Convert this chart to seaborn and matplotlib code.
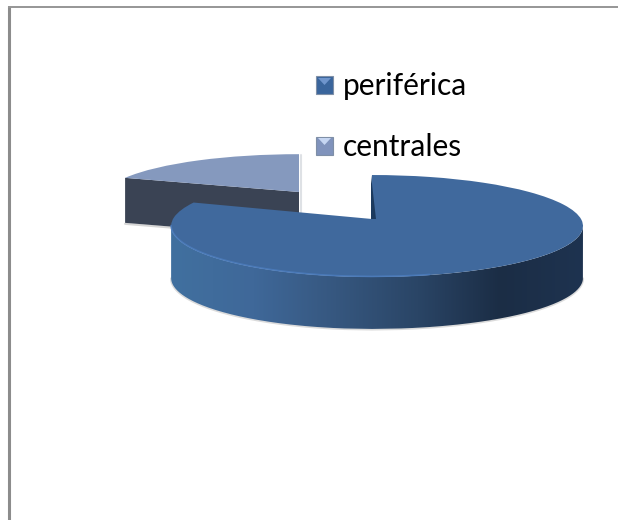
import numpy as np
import matplotlib
matplotlib.use("Agg")
import matplotlib.pyplot as plt
import seaborn as sns
from matplotlib.colors import LinearSegmentedColormap
from matplotlib.patches import Patch, PathPatch
from matplotlib.path import Path
from matplotlib.transforms import Transform

categories = ["periférica", "centrales"]
shares = [80.6, 19.4]
top_colors = ["#40699D", "#8599BE"]
side_stops = ["#41709F", "#3F6899", "#36577F", "#2A4566", "#1B2D45", "#1E3350"]

sns.set_theme(style="white")
plt.rcParams["font.family"] = ["Lato", "DejaVu Sans"]


class Tilt(Transform):
    """Perspective view of a unit-circle pie, output in pixel coordinates."""
    input_dims = output_dims = 2
    is_separable = False
    has_inverse = False

    def __init__(self, x0, y0, left, right, height, k=0.137):
        super().__init__()
        self.p = (x0, y0, left, right, height, k)

    def transform_non_affine(self, xy):
        x0, y0, left, right, height, k = self.p
        xy = np.asarray(xy, float)
        u, v = xy[:, 0], xy[:, 1]
        w = 1 + k * v
        b = np.where(u < 0, left, right)
        return np.column_stack([x0 + b * u / w, y0 - height * v / w])


fig = plt.figure(figsize=(6.18, 5.2), dpi=100)
ax = fig.add_axes([0, 0, 1, 1])
wedges, _ = ax.pie(shares, colors=top_colors, startangle=90, counterclock=False,
                   radius=1, center=(0, 0), wedgeprops=dict(linewidth=0))
big_view = Tilt(372, 219, 199, 209, 50)
small_view = Tilt(299, 192, 194, 194, 43)
wedges[0].set_transform(big_view + ax.transData)
wedges[1].set_transform(small_view + ax.transData)
wedges[0].set_zorder(6)
wedges[1].set_zorder(3)

DEPTH = 52
SMALL_DEPTH = 45

# side wall of the large slice, with a horizontal gradient
k = big_view.p[-1]
v = np.linspace(-k, -1, 120)
left_arc = np.column_stack([-np.sqrt(1 - v**2), v])
right_arc = left_arc[::-1] * [-1, 1]
unit_arc = np.vstack([left_arc, right_arc])
front = big_view.transform_non_affine(unit_arc)
wall = np.vstack([front, (front + [0, DEPTH])[::-1]])
cmap = LinearSegmentedColormap.from_list("wall", side_stops)
img = ax.imshow(np.linspace(0, 1, 256)[None, :], cmap=cmap, aspect="auto",
                extent=(front[:, 0].min(), front[:, 0].max(), 345, 215), zorder=5)
img.set_clip_path(PathPatch(Path(wall), transform=ax.transData))

# soft halo beneath the wall
ax.plot(front[:, 0], front[:, 1] + DEPTH + 0.5, color="#8A8A8A", lw=1.6, alpha=0.3,
        zorder=4, solid_capstyle="round")
# light rim on the front-left of the top face
ax.plot(front[:125, 0], front[:125, 1] - 0.5, color="#4C7DBE", lw=1.2, alpha=0.8, zorder=7)

# cut face of the small slice
th = np.deg2rad(wedges[1].theta2)
corner = small_view.transform_non_affine(np.array([[np.cos(th), np.sin(th)]]))[0]
apex = np.array([small_view.p[0], small_view.p[1]])
face = np.array([corner, apex, apex + [0, SMALL_DEPTH], corner + [0, SMALL_DEPTH]])
ax.fill(face[:, 0], face[:, 1], color="#3A4354", lw=0, zorder=2)
ax.plot([apex[0] + 1.5] * 2, [155, apex[1] + 24], color="#C9CDD4", lw=1.5, alpha=0.6, zorder=1)
ax.plot(face[2:, 0], face[2:, 1] + 1, color="#999999", lw=1.5, alpha=0.4, zorder=1)

# dark sliver on the inner cut of the large slice
ax.fill([371, 371, 375.5], [175, 219, 219], color="#1C3A5E", lw=0, zorder=7)

ax.set_aspect("auto")
ax.set_xlim(0, 618)
ax.set_ylim(520, 0)
ax.set_xticks([])
ax.set_yticks([])
ax.axis("off")

# page frame
ax.plot([9, 9], [6, 520], color="#8C8C8C", lw=2.2, zorder=8, solid_capstyle="butt")
ax.plot([8, 618], [6.5, 6.5], color="#969696", lw=1.4, zorder=8, solid_capstyle="butt")

# legend
legend_colors = ["#3A659C", "#8093BC"]
handles = [Patch(facecolor=c, edgecolor="#7F8FA6", linewidth=0.8) for c in legend_colors]
fs = 21.5
leg = ax.legend(handles, categories, loc="upper left", bbox_to_anchor=(316, 72.5),
                bbox_transform=ax.transData, frameon=False, fontsize=fs,
                borderpad=0, borderaxespad=0, handlelength=0.57, handleheight=0.57,
                handletextpad=0.33, labelspacing=1.1, labelcolor="#000000")
leg.set_zorder(9)
for ytop, gloss in zip((78, 138), ("#6F95CC", "#C6D6F2")):
    ax.fill([318, 331, 324.5], [ytop, ytop, ytop + 7], color=gloss, lw=0, zorder=10)

fig.savefig("out.png", dpi=100)
